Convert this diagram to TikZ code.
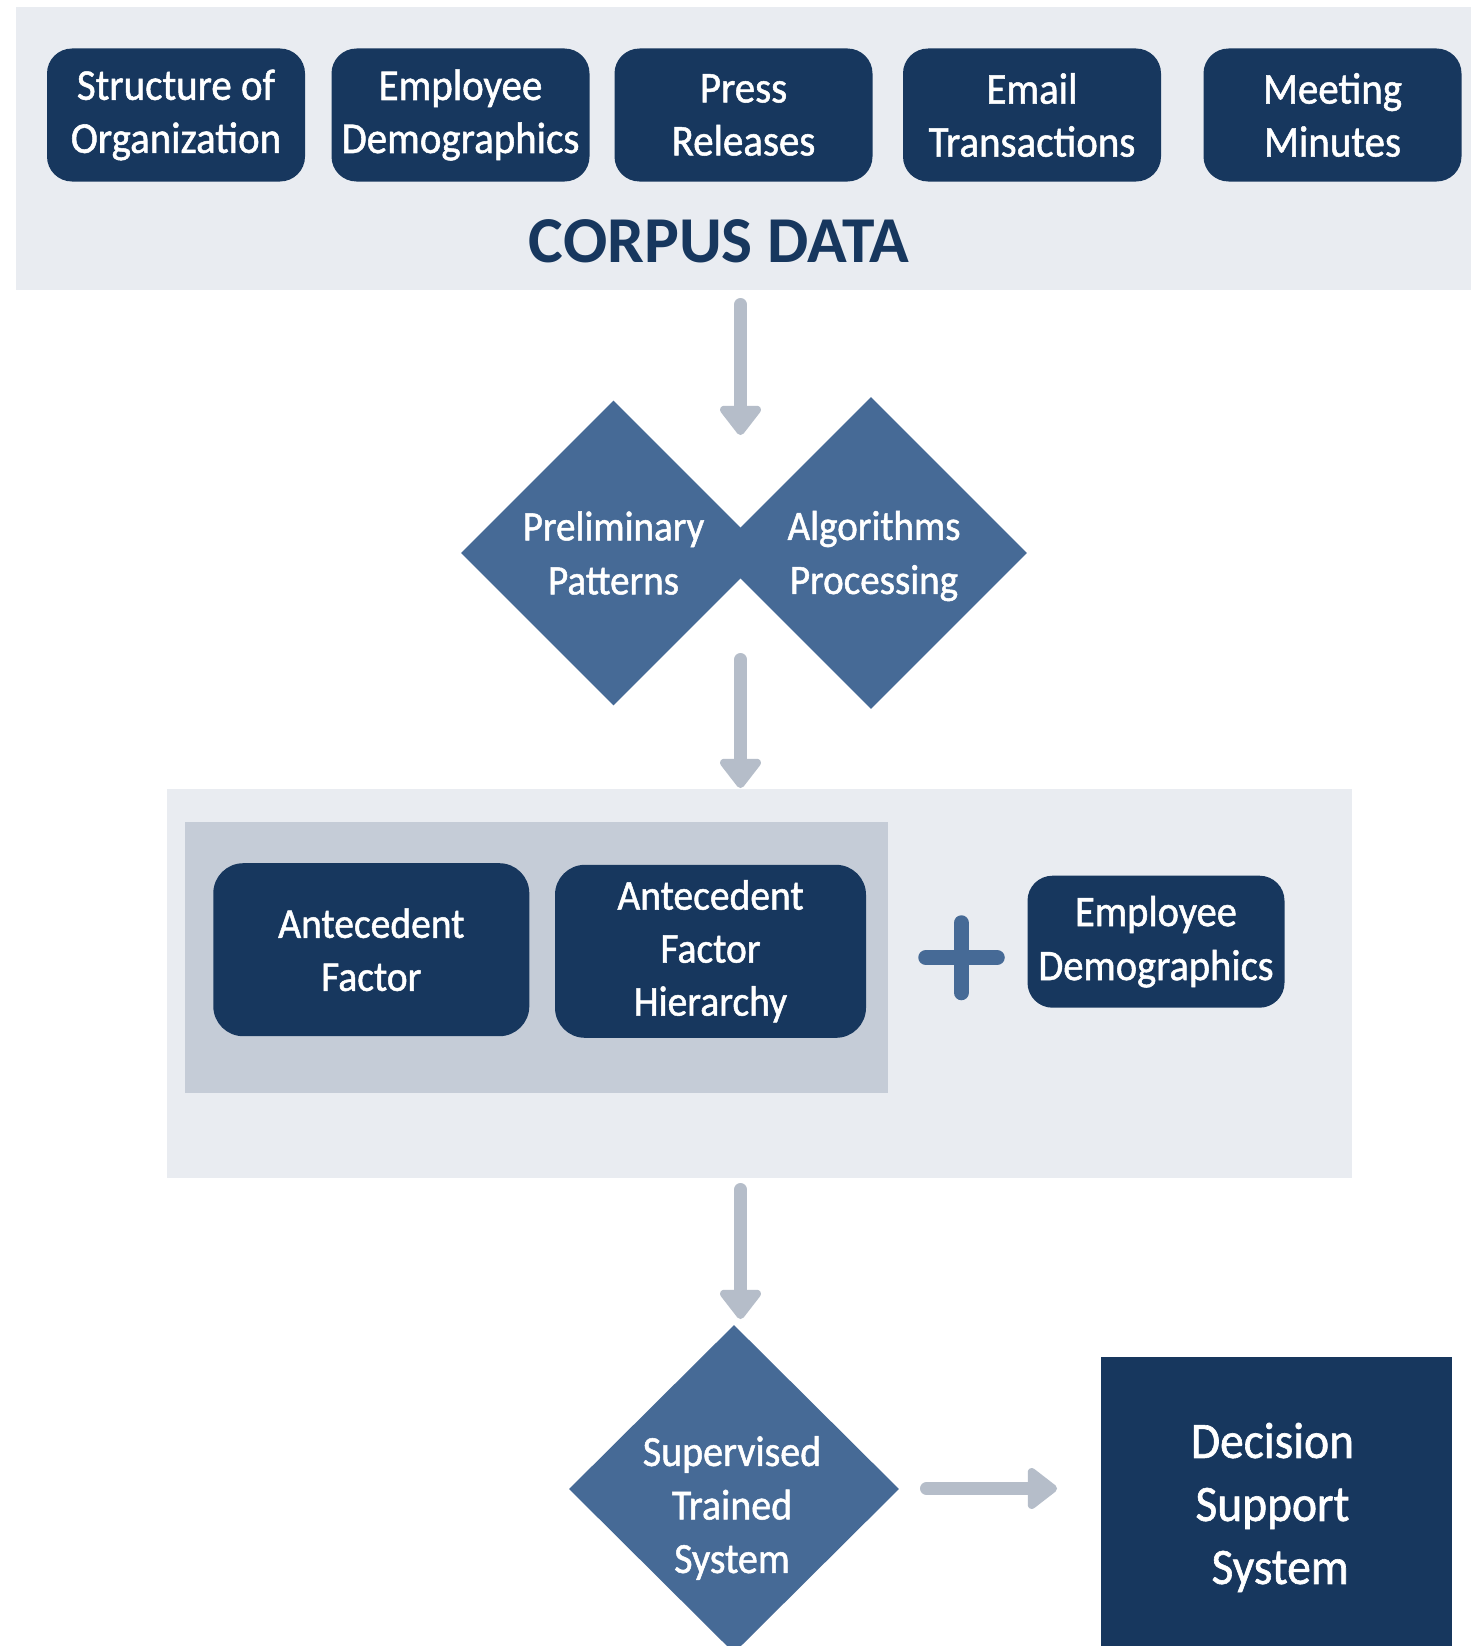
\documentclass[tikz,border=0pt]{standalone}
\usepackage{fontspec}
\setmainfont{Carlito}[FakeStretch=0.93,FakeBold=1.2]
\newfontfamily\headfont{Carlito}
\usetikzlibrary{shapes.geometric,arrows.meta}
\definecolor{navy}{HTML}{17375E}
\definecolor{steel}{HTML}{466A96}
\definecolor{paleband}{HTML}{E9ECF1}
\definecolor{greyband}{HTML}{C5CCD7}
\definecolor{flowgrey}{HTML}{B5BDC9}
\begin{document}
\begin{tikzpicture}[x=1pt,y=-1pt,
  band/.style={fill=paleband, draw=none, inner sep=0pt},
  srcbox/.style={fill=navy, text=white, rounded corners=25pt, inner sep=0pt,
    minimum width=258pt, minimum height=133pt, align=center,
    font=\fontsize{44}{53}\selectfont},
  factorbox/.style={fill=navy, text=white, rounded corners=30pt, inner sep=0pt,
    minimum height=173pt, align=center, font=\fontsize{42.5}{53}\selectfont},
  stepdiamond/.style={diamond, shape aspect=1, fill=steel, text=white, inner sep=0pt,
    align=center, font=\fontsize{42}{54}\selectfont},
  flowarrow/.style={draw=flowgrey, line width=13pt, line cap=round,
    -{Triangle[width=47pt,length=32pt,round]}},
  plusbar/.style={draw=steel, line width=15.5pt, line cap=round}
]
% canvas
\useasboundingbox[fill=white] (0,0) rectangle (1471,1646);

% corpus data band with its sources
\node[band, minimum width=1455pt, minimum height=283pt] (corpus) at (743.5,148.5) {};
\node[srcbox] (s1) at (176,115) {Structure of\\Organization};
\node[srcbox] (s2) at (460.5,115) {Employee\\Demographics};
\node[srcbox] (s3) at (743.5,115) {Press\\Releases};
\node[srcbox] (s4) at (1032,115) {Email\\Transactions};
\node[srcbox] (s5) at (1332.5,115) {Meeting\\Minutes};
\node[anchor=base, text=navy, inner sep=0pt, font=\headfont\bfseries\fontsize{65.5}{72}\selectfont]
  (title) at (719,262) {CORPUS DATA};

% pattern extraction
\node[stepdiamond, minimum width=305pt, minimum height=305pt] (prelim) at (613.5,553) {Preliminary\\Patterns};
\node[stepdiamond, minimum width=312pt, minimum height=312pt,
  label={[text=white, align=center, inner sep=0pt, xshift=3pt, yshift=-3pt,
    font=\fontsize{42}{54}\selectfont]center:Algorithms\\Processing}] (algo) at (871,553) {};

% antecedent factors
\node[band, minimum width=1185pt, minimum height=389pt] (factors) at (759.5,983.3) {};
\node[fill=greyband, inner sep=0pt, minimum width=703pt, minimum height=271pt] (factorgroup) at (536.5,957.3) {};
\node[factorbox, minimum width=316pt] (af) at (371.3,949.7) {Antecedent\\Factor};
\node[factorbox, minimum width=311pt] (afh) at (710.5,951.3) {Antecedent\\Factor\\Hierarchy};
\node[srcbox, minimum width=257pt, minimum height=132pt, font=\fontsize{43.5}{54}\selectfont]
  (demo) at (1156,941.7) {Employee\\Demographics};
\draw[plusbar] (961.3,923) -- (961.3,992.5);
\draw[plusbar] (926,957.5) -- (997,957.5);

% training and decision support
\node[stepdiamond, minimum width=330pt, minimum height=328pt,
  label={[text=white, align=center, inner sep=0pt, xshift=-2pt, yshift=-19pt,
    font=\fontsize{43}{53.5}\selectfont]center:Supervised\\Trained\\System}] (trained) at (734,1489) {};
\node[fill=navy, inner sep=0pt, minimum width=351pt, minimum height=289pt,
  label={[text=white, align=center, inner sep=0pt, xshift=-4pt, yshift=-6pt,
    font=\fontsize{51}{63}\selectfont]center:Decision\\Support\\\hspace*{0.3em}System}] (dss) at (1276.5,1501.5) {};

% flow arrows
\coordinate (a1s) at (740.5,304.5);
\coordinate (a1e) at (740.5,435);
\coordinate (a2s) at (740.5,659.5);
\coordinate (a2e) at (740.5,788);
\coordinate (a3s) at (740.5,1189.5);
\coordinate (a3e) at (740.5,1319);
\coordinate (a4s) at (926.5,1488.5);
\coordinate (a4e) at (1057,1488.5);
\draw[flowarrow] (a1s) -- (a1e);
\draw[flowarrow] (a2s) -- (a2e);
\draw[flowarrow] (a3s) -- (a3e);
\draw[flowarrow] (a4s) -- (a4e);
\end{tikzpicture}
\end{document}
